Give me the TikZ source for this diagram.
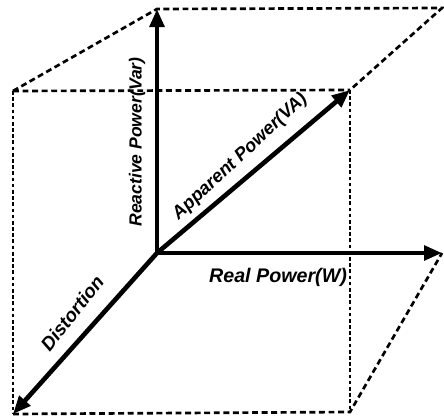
\documentclass[tikz,border=0pt]{standalone}
\usepackage{fontspec}
\setmainfont{Liberation Sans}
\usepackage{tikz}
\usetikzlibrary{arrows.meta,positioning,calc}

\begin{document}
\begin{tikzpicture}[
  x=0.025cm, y=-0.025cm,
  edge/.style={line width=1.9pt, dash pattern=on 4.2pt off 2.6pt},
  vedge/.style={line width=1.9pt, dash pattern=on 2.6pt off 1.8pt},
  axis/.style={-{Triangle[length=0.45cm, width=0.36cm]}, line width=3.3pt},
  lbl/.style={font=\fontsize{#1}{16}\selectfont\bfseries\itshape, inner sep=1pt},
  lbl/.default=13
]
  \useasboundingbox (0,0) rectangle (444,419);

  % corners of the box
  \coordinate (O) at (157,253);
  \coordinate (topback) at (157,9);
  \coordinate (topright) at (442,8);
  \coordinate (frontleft) at (13,91);
  \coordinate (frontright) at (350,90);
  \coordinate (bottomleft) at (13,414);
  \coordinate (bottomright) at (350,412);
  \coordinate (realend) at (442,253);

  % dashed box
  \draw[edge] (frontleft) -- (topback) -- (topright) -- (frontright);
  \draw[edge] (frontleft) -- (frontright);
  \draw[edge] (bottomleft) -- (bottomright) -- (realend);
  \draw[vedge] (frontleft) -- (bottomleft);
  \draw[vedge] (frontright) -- (bottomright);

  % axes
  \draw[axis] (O) -- (topback);
  \draw[axis] (O) -- (realend);
  \draw[axis] (O) -- (frontright);
  \draw[axis] (O) -- (bottomleft);

  % labels
  \node[lbl=12.5, rotate=90] (reactive) at (137,142) {Reactive Power(Var)};
  \node[lbl=13, rotate=43] (apparent) at (240,157) {Apparent Power(VA)};
  \node[lbl=14] (real) at (278,277) {Real Power(W)};
  \node[lbl=13.5, rotate=52] (distortion) at (72,313) {Distortion};
\end{tikzpicture}
\end{document}
